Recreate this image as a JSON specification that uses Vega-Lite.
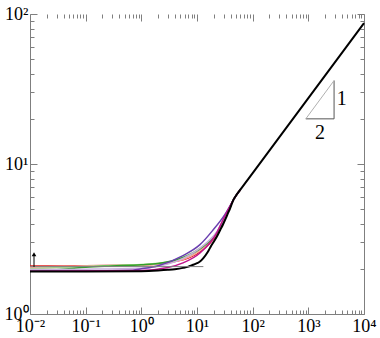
{
  "$schema": "https://vega.github.io/schema/vega-lite/v6.json",
  "width": 334,
  "height": 300,
  "autosize": "none",
  "padding": {"left": 30, "top": 14, "right": 16, "bottom": 24},
  "background": "white",
  "config": {
    "view": {"stroke": null},
    "font": "Liberation Serif",
    "axis": {
      "grid": false,
      "title": null,
      "domainColor": "#7f7f7f",
      "tickColor": "#7f7f7f",
      "labelColor": "black",
      "labelFont": "Liberation Serif",
      "labelFontSize": 18
    }
  },
  "datasets": {
    "curves": [
      {"s": "red", "x": 0.01, "y": 2.09}, {"s": "red", "x": 0.03, "y": 2.09}, {"s": "red", "x": 0.1, "y": 2.1}, {"s": "red", "x": 1, "y": 2.12}, {"s": "red", "x": 5.6, "y": 2.3}, {"s": "red", "x": 11.3, "y": 2.6}, {"s": "red", "x": 22.9, "y": 3.4}, {"s": "red", "x": 44.4, "y": 5.7}, {"s": "red", "x": 48, "y": 6.0}, {"s": "red", "x": 60, "y": 6.74},
      {"s": "pink2", "x": 0.01, "y": 2.0}, {"s": "pink2", "x": 0.03, "y": 2.04}, {"s": "pink2", "x": 0.1, "y": 2.08}, {"s": "pink2", "x": 1, "y": 2.12}, {"s": "pink2", "x": 5.6, "y": 2.32}, {"s": "pink2", "x": 11.3, "y": 2.65}, {"s": "pink2", "x": 22.9, "y": 3.45}, {"s": "pink2", "x": 44.4, "y": 5.7}, {"s": "pink2", "x": 48, "y": 6.0}, {"s": "pink2", "x": 60, "y": 6.74},
      {"s": "pink", "x": 0.01, "y": 2.05}, {"s": "pink", "x": 0.03, "y": 2.07}, {"s": "pink", "x": 0.1, "y": 2.09}, {"s": "pink", "x": 0.3, "y": 2.1}, {"s": "pink", "x": 1, "y": 2.12}, {"s": "pink", "x": 3, "y": 2.2}, {"s": "pink", "x": 5.6, "y": 2.32}, {"s": "pink", "x": 11.3, "y": 2.65}, {"s": "pink", "x": 22.9, "y": 3.45}, {"s": "pink", "x": 44.4, "y": 5.7}, {"s": "pink", "x": 48, "y": 6.0}, {"s": "pink", "x": 60, "y": 6.74},
      {"s": "lightgreen", "x": 0.01, "y": 2.0}, {"s": "lightgreen", "x": 0.1, "y": 2.07}, {"s": "lightgreen", "x": 0.5, "y": 2.12}, {"s": "lightgreen", "x": 1, "y": 2.14}, {"s": "lightgreen", "x": 3, "y": 2.22}, {"s": "lightgreen", "x": 5.6, "y": 2.38}, {"s": "lightgreen", "x": 11.3, "y": 2.75}, {"s": "lightgreen", "x": 22.9, "y": 3.5}, {"s": "lightgreen", "x": 44.4, "y": 5.7}, {"s": "lightgreen", "x": 48, "y": 6.0}, {"s": "lightgreen", "x": 60, "y": 6.74},
      {"s": "green", "x": 0.01, "y": 1.93}, {"s": "green", "x": 0.02, "y": 1.95}, {"s": "green", "x": 0.05, "y": 2.0}, {"s": "green", "x": 0.1, "y": 2.05}, {"s": "green", "x": 0.3, "y": 2.09}, {"s": "green", "x": 1, "y": 2.13}, {"s": "green", "x": 2, "y": 2.17}, {"s": "green", "x": 5.6, "y": 2.38}, {"s": "green", "x": 11.3, "y": 2.72}, {"s": "green", "x": 22.9, "y": 3.5}, {"s": "green", "x": 31.6, "y": 4.37}, {"s": "green", "x": 44.4, "y": 5.7}, {"s": "green", "x": 48, "y": 6.0}, {"s": "green", "x": 60, "y": 6.74},
      {"s": "lightpurple", "x": 0.01, "y": 1.98}, {"s": "lightpurple", "x": 0.1, "y": 1.99}, {"s": "lightpurple", "x": 1, "y": 2.02}, {"s": "lightpurple", "x": 3, "y": 2.15}, {"s": "lightpurple", "x": 5.6, "y": 2.35}, {"s": "lightpurple", "x": 11.3, "y": 2.75}, {"s": "lightpurple", "x": 22.9, "y": 3.55}, {"s": "lightpurple", "x": 44.4, "y": 5.7}, {"s": "lightpurple", "x": 48, "y": 6.0}, {"s": "lightpurple", "x": 60, "y": 6.74},
      {"s": "purple", "x": 0.01, "y": 1.93}, {"s": "purple", "x": 0.1, "y": 1.935}, {"s": "purple", "x": 0.7, "y": 1.96}, {"s": "purple", "x": 1, "y": 2.0}, {"s": "purple", "x": 2, "y": 2.1}, {"s": "purple", "x": 5.6, "y": 2.45}, {"s": "purple", "x": 11.3, "y": 2.9}, {"s": "purple", "x": 19.4, "y": 3.63}, {"s": "purple", "x": 31.6, "y": 4.6}, {"s": "purple", "x": 44.4, "y": 5.7}, {"s": "purple", "x": 48, "y": 6.0}, {"s": "purple", "x": 60, "y": 6.74},
      {"s": "magenta", "x": 0.01, "y": 1.93}, {"s": "magenta", "x": 1, "y": 1.95}, {"s": "magenta", "x": 3, "y": 2.04}, {"s": "magenta", "x": 5.6, "y": 2.19}, {"s": "magenta", "x": 11.3, "y": 2.55}, {"s": "magenta", "x": 22.9, "y": 3.5}, {"s": "magenta", "x": 29.3, "y": 4.25}, {"s": "magenta", "x": 44.4, "y": 5.7}, {"s": "magenta", "x": 48, "y": 6.0}, {"s": "magenta", "x": 60, "y": 6.74}
    ],
    "black": [
      {"x": 0.01, "y": 1.92}, {"x": 0.1, "y": 1.92}, {"x": 1, "y": 1.93}, {"x": 2, "y": 1.95}, {"x": 3, "y": 1.97}, {"x": 4, "y": 1.99}, {"x": 5.6, "y": 2.03}, {"x": 7, "y": 2.07}, {"x": 8, "y": 2.11}, {"x": 10, "y": 2.18}, {"x": 11.3, "y": 2.24}, {"x": 13, "y": 2.36}, {"x": 15.7, "y": 2.6}, {"x": 18, "y": 2.85}, {"x": 20, "y": 3.03}, {"x": 22.9, "y": 3.3}, {"x": 26, "y": 3.62}, {"x": 29.3, "y": 3.95}, {"x": 33, "y": 4.35}, {"x": 36, "y": 4.7}, {"x": 39.2, "y": 5.05}, {"x": 42, "y": 5.4}, {"x": 44.4, "y": 5.7}, {"x": 48, "y": 6.0}, {"x": 60, "y": 6.74}, {"x": 100, "y": 8.7}, {"x": 1000, "y": 27.5}, {"x": 10000, "y": 87}
    ],
    "hline": [{"x": 0.01, "y": 2.07}, {"x": 13, "y": 2.07}],
    "legs": [{"x": 900, "y": 20}, {"x": 2900, "y": 20}, {"x": 2900, "y": 36}],
    "hyp": [{"x": 900, "y": 20}, {"x": 2900, "y": 36}],
    "labels": [{"x": 4000, "y": 27, "t": "1"}, {"x": 1620, "y": 16, "t": "2"}],
    "arrow": [{"x": 0.0118, "y": 2.06, "y2": 2.5}]
  },
  "layer": [
    {
      "encoding": {
        "x": {
          "field": "x", "type": "quantitative",
          "scale": {"type": "log", "domain": [0.01, 10000]},
          "axis": {
            "orient": "bottom",
            "values": [0.01,0.02,0.03,0.04,0.05,0.06,0.07,0.08,0.09,0.1,0.2,0.3,0.4,0.5,0.6,0.7,0.8,0.9,1,2,3,4,5,6,7,8,9,10,20,30,40,50,60,70,80,90,100,200,300,400,500,600,700,800,900,1000,2000,3000,4000,5000,6000,7000,8000,9000,10000],
            "labelExpr": "datum.value==0.01?'10⁻²':datum.value==0.1?'10⁻¹':datum.value==1?'10⁰':datum.value==10?'10¹':datum.value==100?'10²':datum.value==1000?'10³':datum.value==10000?'10⁴':''",
            "tickSize": {"condition": {"test": "indexof([0.01,0.1,1,10,100,1000,10000], datum.value) >= 0", "value": -7}, "value": -4},
            "labelPadding": 10,
            "labelFlush": false,
            "labelOverlap": false
          }
        },
        "y": {
          "field": "y", "type": "quantitative",
          "scale": {"type": "log", "domain": [1, 100]},
          "axis": {
            "orient": "left",
            "values": [1,2,3,4,5,6,7,8,9,10,20,30,40,50,60,70,80,90,100],
            "labelExpr": "datum.value==1?'10⁰':datum.value==10?'10¹':datum.value==100?'10²':''",
            "tickSize": {"condition": {"test": "indexof([1,10,100], datum.value) >= 0", "value": -7}, "value": -4},
            "labelPadding": 9,
            "labelFlush": false,
            "labelOverlap": false
          }
        }
      },
      "layer": [
        {
          "data": {"name": "curves"},
          "mark": {"type": "line", "strokeWidth": 1.5, "interpolate": "monotone"},
          "encoding": {
            "color": {
              "field": "s", "type": "nominal", "legend": null,
              "scale": {
                "domain": ["red", "pink2", "pink", "lightgreen", "green", "lightpurple", "purple", "magenta"],
                "range": ["#e0201c", "#f8c8c4", "#f4a29a", "#a8d88c", "#33a02c", "#c9b0de", "#6a3fb0", "#c0148c"]
              }
            }
          }
        },
        {
          "data": {"name": "black"},
          "mark": {"type": "line", "strokeWidth": 2, "color": "black", "interpolate": "monotone"},
          "encoding": {}
        },
        {
          "data": {"name": "hline"},
          "mark": {"type": "line", "strokeWidth": 1, "color": "#7f7f7f"},
          "encoding": {}
        },
        {
          "data": {"name": "legs"},
          "mark": {"type": "line", "strokeWidth": 1, "color": "#555555"},
          "encoding": {}
        },
        {
          "data": {"name": "hyp"},
          "mark": {"type": "line", "strokeWidth": 1, "color": "#b0b0b0"},
          "encoding": {}
        },
        {
          "data": {"name": "labels"},
          "mark": {"type": "text", "fontSize": 20, "font": "Liberation Serif", "color": "black", "align": "center", "baseline": "middle"},
          "encoding": {"text": {"field": "t"}}
        },
        {
          "data": {"name": "arrow"},
          "mark": {"type": "rule", "color": "black", "strokeWidth": 1},
          "encoding": {"y2": {"field": "y2"}}
        },
        {
          "data": {"name": "arrow"},
          "mark": {"type": "point", "shape": "triangle-up", "filled": true, "size": 22, "color": "black", "opacity": 1},
          "encoding": {"y": {"field": "y2", "type": "quantitative"}}
        }
      ]
    },
    {
      "data": {"values": [{"x": 1, "y": 10}]},
      "mark": {"type": "point", "opacity": 0},
      "encoding": {
        "x": {
          "field": "x", "type": "quantitative",
          "scale": {"type": "log", "domain": [0.01, 10000]},
          "axis": {
            "orient": "top",
            "domain": false,
            "labels": false,
            "values": [0.01,0.02,0.03,0.04,0.05,0.06,0.07,0.08,0.09,0.1,0.2,0.3,0.4,0.5,0.6,0.7,0.8,0.9,1,2,3,4,5,6,7,8,9,10,20,30,40,50,60,70,80,90,100,200,300,400,500,600,700,800,900,1000,2000,3000,4000,5000,6000,7000,8000,9000,10000],
            "tickSize": {"condition": {"test": "indexof([0.01,0.1,1,10,100,1000,10000], datum.value) >= 0", "value": -7}, "value": -4}
          }
        },
        "y": {
          "field": "y", "type": "quantitative",
          "scale": {"type": "log", "domain": [1, 100]},
          "axis": {
            "orient": "right",
            "labels": false,
            "values": [1,2,3,4,5,6,7,8,9,10,20,30,40,50,60,70,80,90,100],
            "tickSize": {"condition": {"test": "indexof([1,10,100], datum.value) >= 0", "value": -7}, "value": -4}
          }
        }
      }
    }
  ],
  "resolve": {"axis": {"x": "independent", "y": "independent"}}
}
